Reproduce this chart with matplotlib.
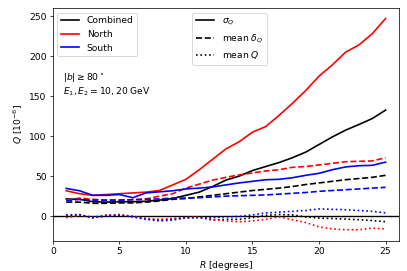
import matplotlib
matplotlib.use("Agg")
import matplotlib.pyplot as plt
from matplotlib.lines import Line2D

R = list(range(1, 26))

comb_sigma = [21.5, 21, 18, 17.5, 18, 18, 18.6, 20, 22, 26, 30, 37, 45, 50, 57, 62, 67, 73, 80, 89.5, 99, 107.5, 114.5, 122, 132.5]
north_sigma = [31.7, 28, 26, 27, 28, 29, 30, 32, 39, 46, 58, 71, 84, 93, 105, 112, 126, 141, 157, 175, 189, 205, 214, 228, 247]
south_sigma = [34.6, 31.7, 26, 26, 27, 23, 29, 30.4, 31.7, 34, 35, 36.5, 39, 41.5, 43.5, 45.5, 46, 48, 51, 53.5, 58, 61.5, 63, 63.5, 67.5]

comb_delta = [17.5, 17.5, 16, 16, 16.5, 16.5, 17.5, 19, 21, 22, 24, 26, 28, 30, 32, 33.5, 35, 37, 39.5, 41.5, 43.5, 45.5, 47, 48.5, 51]
north_delta = [20, 22.5, 21, 20, 20, 20.5, 21.5, 25, 28, 35, 40, 45, 48.5, 51.5, 54, 56.5, 58, 61, 62, 64, 66, 68, 68.5, 69, 73]
south_delta = [19, 21, 20, 20, 20, 20.5, 21, 21.5, 22.5, 22.5, 23, 24, 25, 25.5, 26, 26.5, 27.5, 28.5, 29.5, 31, 32, 33, 34, 35, 36]

comb_mean = [0, 1.5, -2, 0.5, 1.5, -0.5, -3.5, -5, -4, -2, -1.5, -5, -4, -4, -2, 1, 2, 1.5, -1, -2.5, -3, -3.7, -4.5, -5.5, -7]
north_mean = [-2, 1, -1.5, 1.5, 2, 0, -3, -4, -3, -1.5, -1, -4, -6, -7, -6, -4, -1, -4.5, -8, -13.5, -16, -17, -17, -15, -16]
south_mean = [1.6, 2, -2, 0, 1, -1, -4, -6, -5, -2, -2, -1.7, -1, -0.4, 1.5, 4, 5, 6, 7, 9, 8.5, 8, 7, 6, 4]

regions = ["Combined", "North", "South"]
colors = ["k", "r", "b"]
stat_labels = [r"$\sigma_Q$", r"mean $\delta_Q$", r"mean $Q$"]
styles = ["-", "--", ":"]

DPI = 66
fig = plt.figure(figsize=(407 / DPI, 271 / DPI), dpi=DPI)
ax = fig.add_axes([0.13, 0.111, 0.85, 0.859])

series = [
    (comb_sigma, comb_delta, comb_mean),
    (north_sigma, north_delta, north_mean),
    (south_sigma, south_delta, south_mean),
]
ax.axhline(0, color="k", lw=1.5)
for c, (s, d, m) in zip(colors, series):
    ax.plot(R, s, color=c, ls="-", lw=1.8)
    ax.plot(R, d, color=c, ls="--", lw=1.8)
    ax.plot(R, m, color=c, ls=":", lw=1.8)

ax.set_xlim(0, 26)
ax.set_ylim(-31, 260)
ax.set_xticks([0, 5, 10, 15, 20, 25])
ax.set_yticks([0, 50, 100, 150, 200, 250])
ax.set_xlabel(r"$R$ [degrees]", labelpad=2.5)
ax.set_ylabel(r"$Q$ [$10^{-6}$]")

h1 = [Line2D([], [], color=c, lw=1.8) for c in colors]
leg1 = ax.legend(h1, regions, loc="upper left")
ax.add_artist(leg1)
h2 = [Line2D([], [], color="k", ls=s, lw=1.8) for s in styles]
ax.legend(h2, stat_labels, loc="upper left", bbox_to_anchor=(0.39, 1.0))

ax.text(0.03, 0.73, "$|b| \\geq 80^\\circ$\n$E_1, E_2 = 10, 20$ GeV", transform=ax.transAxes,
        va="top", ha="left")

fig.savefig("out.png", dpi=DPI)
